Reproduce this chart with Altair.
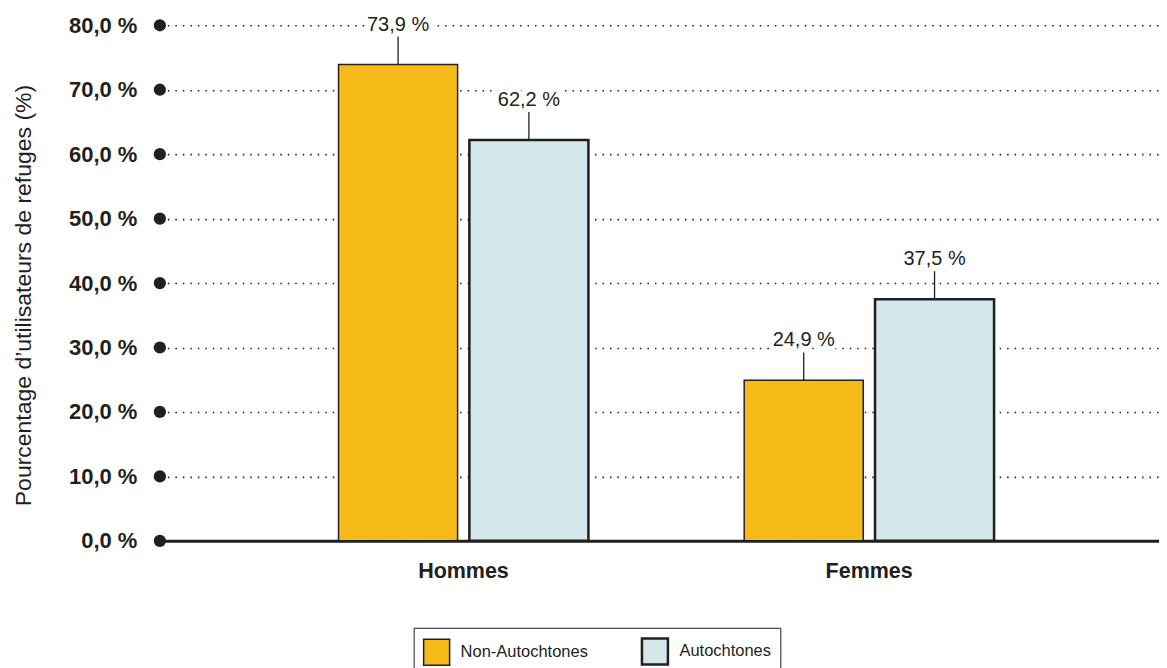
import altair as alt
import pandas as pd

groups = ["Hommes", "Hommes", "Femmes", "Femmes"]
series = ["Non-Autochtones", "Autochtones", "Non-Autochtones", "Autochtones"]
values = [73.9, 62.2, 24.9, 37.5]
group_order = ["Hommes", "Femmes"]
series_order = ["Non-Autochtones", "Autochtones"]
series_colors = ["#F6BB19", "#D4E7EA"]
y_ticks = [0, 10, 20, 30, 40, 50, 60, 70, 80]

FONT = "Liberation Sans"
INK = "#231f20"

df = pd.DataFrame({"group": groups, "series": series, "value": values})
df["label"] = [f"{v:.1f}".replace(".", ",") + " %" for v in values]
ticks_df = pd.DataFrame({"tick": y_ticks})

x_enc = alt.X(
    "group:N", sort=group_order,
    scale=alt.Scale(paddingInner=0.384, paddingOuter=0.4235, align=0.52),
    axis=alt.Axis(title=None, labelFont=FONT, labelFontSize=21.5, labelFontWeight="bold",
                  labelColor=INK, labelPadding=20, ticks=False, domain=True,
                  domainColor=INK, domainWidth=3, labelAngle=0),
)
xoff_enc = alt.XOffset("series:N", sort=series_order,
                       scale=alt.Scale(paddingInner=0.09, paddingOuter=0))
y_scale = alt.Scale(domain=[0, 80], nice=False)
y_enc = alt.Y(
    "value:Q", scale=y_scale,
    axis=alt.Axis(
        values=y_ticks, title="Pourcentage d\u2019utilisateurs de refuges (%)",
        labelExpr="replace(format(datum.value, '.1f'), '.', ',') + ' %'",
        labelFont=FONT, labelFontSize=22, labelFontWeight="bold", labelColor=INK,
        labelPadding=23, ticks=False, domain=False, grid=True,
        gridColor=INK, gridDash=[1.5, 6], gridWidth=1.6, gridOpacity=1,
        titleFont=FONT, titleFontSize=23, titleFontWeight="normal", titleColor=INK,
        titlePadding=33, titleY=270,
    ),
)

base = alt.Chart(df)

bars = base.mark_bar(stroke=INK).encode(
    x=x_enc, xOffset=xoff_enc, y=y_enc,
    color=alt.Color("series:N", sort=series_order,
                    scale=alt.Scale(domain=series_order, range=series_colors),
                    legend=alt.Legend(
                        title=None, orient="none", legendX=254, legendY=603,
                        direction="horizontal", symbolType="square", symbolSize=676,
                        symbolStrokeColor=INK, symbolStrokeWidth=2,
                        labelFont=FONT, labelFontSize=16.5, labelColor=INK,
                        labelOffset=10, columnPadding=48, strokeColor=INK,
                        padding=9, fillColor="white")),
    strokeWidth=alt.StrokeWidth("series:N", sort=series_order,
                                scale=alt.Scale(domain=series_order, range=[1.5, 2.5]),
                                legend=None),
)

leaders = base.mark_rule(color=INK, strokeWidth=1.3, y2Offset=-28).encode(
    x=alt.X("group:N", sort=group_order), xOffset=alt.XOffset("series:N", sort=series_order),
    y=alt.Y("value:Q"), y2=alt.Y2("value:Q"),
)

halo = base.mark_text(dy=-40, baseline="middle", font=FONT, fontSize=20,
                      stroke="white", strokeWidth=8, color="white").encode(
    x=alt.X("group:N", sort=group_order), xOffset=alt.XOffset("series:N", sort=series_order),
    y=alt.Y("value:Q"), text="label:N",
)
labels = base.mark_text(dy=-40, baseline="middle", font=FONT, fontSize=20, color=INK).encode(
    x=alt.X("group:N", sort=group_order), xOffset=alt.XOffset("series:N", sort=series_order),
    y=alt.Y("value:Q"), text="label:N",
)

dots = alt.Chart(ticks_df).mark_circle(size=150, color=INK, opacity=1).encode(
    x=alt.value(0), y=alt.Y("tick:Q"),
)

chart = alt.layer(bars, leaders, halo, labels, dots).properties(
    width=1000, height=516,
    padding={"left": 4, "top": 6, "right": 0, "bottom": 0},
).configure_view(stroke=None)

chart.save("out.html", embed_options={"renderer": "svg", "actions": False})
